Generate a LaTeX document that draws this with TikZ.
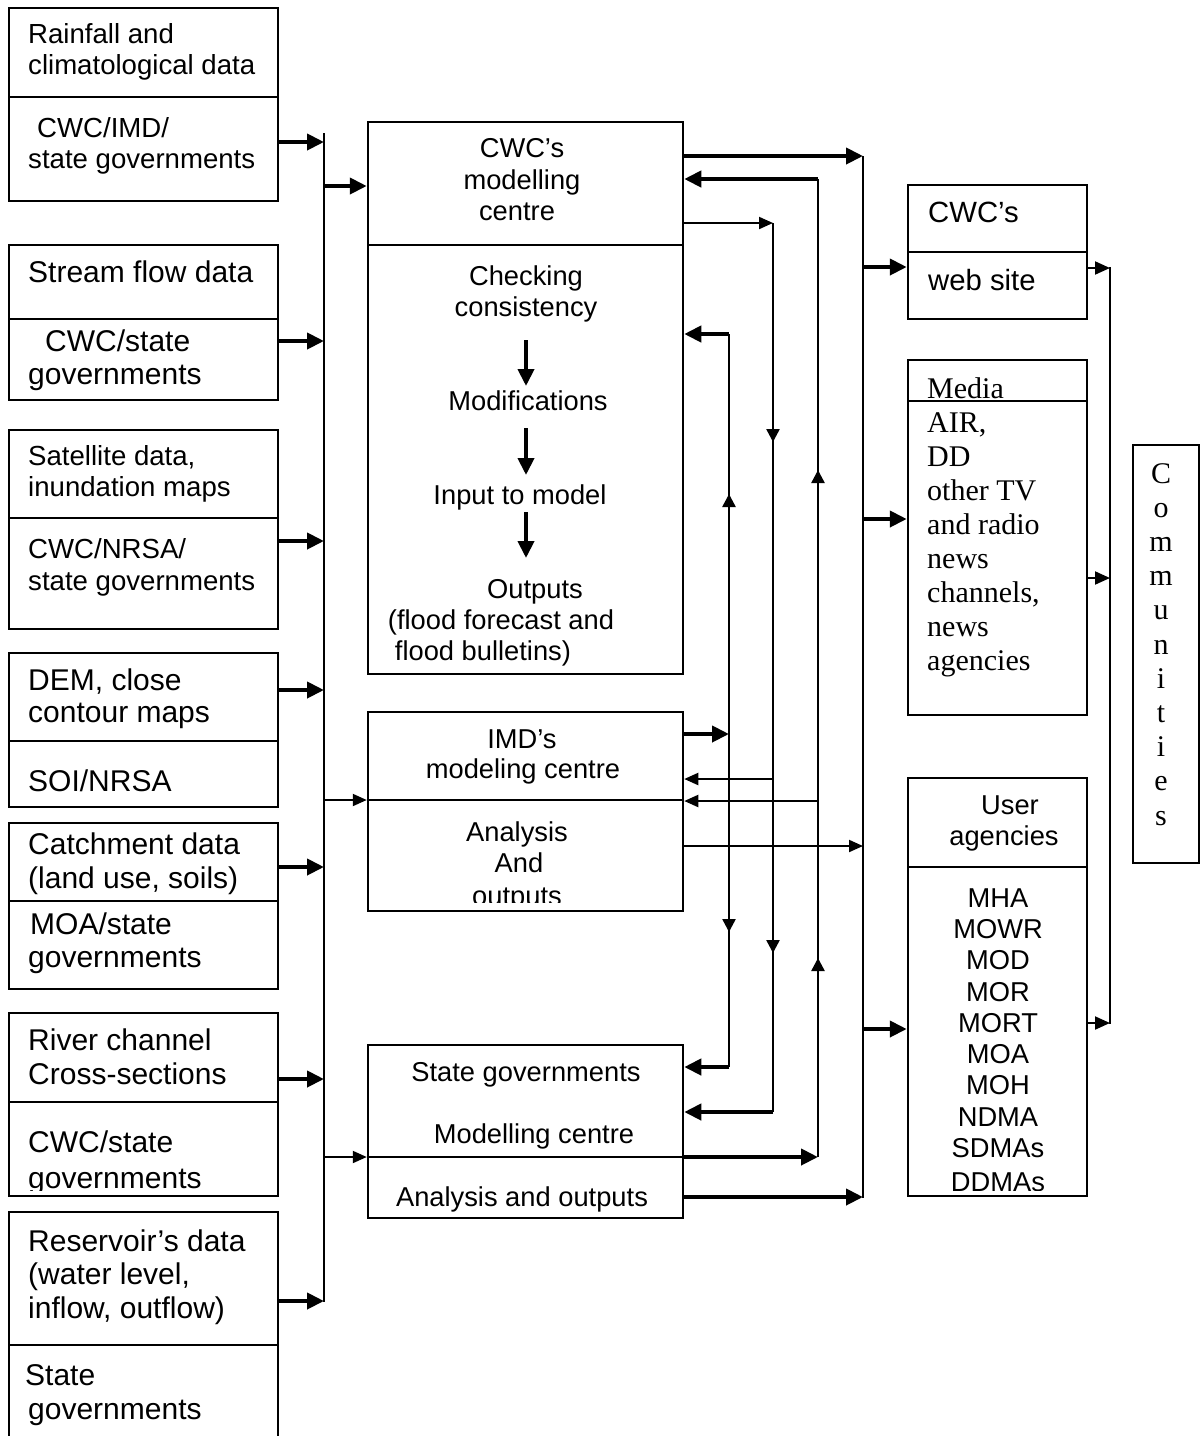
\documentclass[tikz,border=0pt]{standalone}
\usepackage{fontspec}
\setmainfont{Liberation Sans}
\newfontfamily\serifcomm{Liberation Serif}
\usetikzlibrary{arrows.meta,fit,decorations.markings}
\begin{document}
\begin{tikzpicture}[x=1pt,y=-1pt,
 sec/.style={draw, line width=2.5pt, inner sep=0pt},
 txt/.style={inner sep=0pt, font=\fontsize{27.3}{32}\selectfont},
 tl/.style={inner sep=0pt, font=\fontsize{27.6}{32}\selectfont, anchor=base west},
 tlb/.style={inner sep=0pt, font=\fontsize{30}{34}\selectfont, anchor=base west},
 tc/.style={txt, anchor=base},
 srf/.style={inner sep=0pt, font=\serifcomm\fontsize{30}{34}\selectfont, anchor=base west},
 busline/.style={line width=2.5pt},
 thickarr/.style={line width=4pt, -{Triangle[length=17pt,width=16pt]}},
 thinarr/.style={line width=2pt, -{Triangle[length=14pt,width=12pt]}},
 smallarr/.style={line width=2pt, -{Triangle[length=15pt,width=13pt]}},
 twotips/.style 2 args={postaction={decorate}, decoration={markings,
   mark=at position #1 with {\arrow{Triangle[length=13pt,width=13pt]}},
   mark=at position #2 with {\arrow{Triangle[length=13pt,width=13pt]}}}},
 onetip/.style={postaction={decorate}, decoration={markings,
   mark=at position #1 with {\arrow{Triangle[length=13pt,width=13pt]}}}},
 ]
\useasboundingbox (0,0) rectangle (1200,1436);

% ---------------- left column boxes ----------------
\node[sec, fit={(9,8)(278,97)}] (b1a) {};
\node[sec, fit={(9,97)(278,201)}] (b1b) {};
\node[sec, fit={(9,245)(278,319)}] (b2a) {};
\node[sec, fit={(9,319)(278,400)}] (b2b) {};
\node[sec, fit={(9,430)(278,518)}] (b3a) {};
\node[sec, fit={(9,518)(278,629)}] (b3b) {};
\node[sec, fit={(9,653)(278,741)}] (b4a) {};
\node[sec, fit={(9,741)(278,807)}] (b4b) {};
\node[sec, fit={(9,823)(278,901)}] (b5a) {};
\node[sec, fit={(9,901)(278,989)}] (b5b) {};
\node[sec, fit={(9,1013)(278,1102)}] (b6a) {};
\node[sec, fit={(9,1102)(278,1196)}] (b6b) {};
\node[sec, fit={(9,1212)(278,1345)}] (b7a) {};
\node[sec, fit={(9,1345)(278,1470)}] (b7b) {};

\node[tl] (t1a) at (28,43) {Rainfall and};
\node[tl] (t1b) at (28,74) {climatological data};
\node[tl] (t1c) at (37,137) {CWC/IMD/};
\node[tl] (t1d) at (28,168) {state governments};
\node[tlb] (t2a) at (28,282) {Stream flow data};
\node[tlb] (t2b) at (45,351) {CWC/state};
\node[tlb] (t2c) at (28,384) {governments};
\node[tl] (t3a) at (28,465) {Satellite data,};
\node[tl] (t3b) at (28,496) {inundation maps};
\node[tl] (t3c) at (28,558) {CWC/NRSA/};
\node[tl] (t3d) at (28,590) {state governments};
\node[tlb] (t4a) at (28,690) {DEM, close};
\node[tlb] (t4b) at (28,722) {contour maps};
\node[tlb] (t4c) at (28,791) {SOI/NRSA};
\node[tlb] (t5a) at (28,854) {Catchment data};
\node[tlb] (t5b) at (28,888) {(land use, soils)};
\node[tlb] (t5c) at (30,934) {MOA/state};
\node[tlb] (t5d) at (28,967) {governments};
\node[tlb] (t6a) at (28,1050) {River channel};
\node[tlb] (t6b) at (28,1084) {Cross-sections};
\node[tlb] (t6c) at (28,1152) {CWC/state};
\begin{scope}
\clip (9,1102) rectangle (278,1190);
\node[tlb] (t6d) at (28,1188) {governments};
\end{scope}
\node[tlb] (t7a) at (28,1251) {Reservoir’s data};
\node[tlb] (t7b) at (28,1284) {(water level,};
\node[tlb] (t7c) at (28,1318) {inflow, outflow)};
\node[tlb] (t7d) at (25,1385) {State};
\node[tlb] (t7e) at (28,1419) {governments};

% ---------------- middle boxes ----------------
\node[sec, fit={(368,122)(683,245)}] (cwcA) {};
\node[sec, fit={(368,245)(683,674)}] (cwcB) {};
\node[sec, fit={(368,712)(683,800)}] (imdA) {};
\node[sec, fit={(368,800)(683,911)}] (imdB) {};
\node[sec, fit={(368,1045)(683,1157)}] (stA) {};
\node[sec, fit={(368,1157)(683,1218)}] (stB) {};

\node[tc] (c1) at (522,157) {CWC’s};
\node[tc] (c2) at (522,189) {modelling};
\node[tc] (c3) at (517,220) {centre};
\node[tc] (c4) at (526,285) {Checking};
\node[tc] (c5) at (526,316) {consistency};
\node[tc] (c6) at (528,410) {Modifications};
\node[tc] (c7) at (520,504) {Input to model};
\node[tc] (c8) at (535,598) {Outputs};
\node[tc] (c9) at (501,629) {(flood forecast and};
\node[tc] (c10) at (483,660) {flood bulletins)};
\draw[thickarr] (c5.south |- 0,340) -- (c5.south |- 0,386);
\draw[thickarr] (c5.south |- 0,428) -- (c5.south |- 0,475);
\draw[thickarr] (c5.south |- 0,512) -- (c5.south |- 0,558);

\node[tc] (i1) at (522,748) {IMD’s};
\node[tc] (i2) at (523,778) {modeling centre};
\node[tc] (i3) at (517,841) {Analysis};
\node[tc] (i4) at (519,872) {And};
\begin{scope}
\clip (368,800) rectangle (683,902);
\node[tc] (i5) at (517,905) {outputs};
\end{scope}

\node[tc] (s1) at (526,1081) {State governments};
\node[tc] (s2) at (534,1143) {Modelling centre};
\node[tc] (s3) at (522,1206) {Analysis and outputs};

% ---------------- right boxes ----------------
\node[sec, fit={(908,185)(1087,252)}] (webA) {};
\node[sec, fit={(908,252)(1087,319)}] (webB) {};
\node[sec, fit={(908,360)(1087,401)}] (medA) {};
\node[sec, fit={(908,401)(1087,715)}] (medB) {};
\node[sec, fit={(908,778)(1087,867)}] (usrA) {};
\node[sec, fit={(908,867)(1087,1196)}] (usrB) {};
\node[sec, fit={(1133,445)(1199,863)}] (com) {};

\node[inner sep=0pt, anchor=base west, font=\fontsize{29.3}{34}\selectfont] (w1) at (928,222) {CWC’s};
\node[inner sep=0pt, anchor=base west, font=\fontsize{29.3}{34}\selectfont] (w2) at (928,290) {web site};

\node[srf] (m1) at (927,398) {Media};
\node[srf] (m2) at (927,432) {AIR,};
\node[srf] (m3) at (927,466) {DD};
\node[srf] (m4) at (927,500) {other TV};
\node[srf] (m5) at (927,534) {and radio};
\node[srf] (m6) at (927,568) {news};
\node[srf] (m7) at (927,602) {channels,};
\node[srf] (m8) at (927,636) {news};
\node[srf] (m9) at (927,670) {agencies};

\node[tc] (u1) at (1010,814) {User};
\node[tc] (u2) at (1004,845) {agencies};
\node[tc] (u3) at (998,907) {MHA};
\node[tc] (u4) at (998,938) {MOWR};
\node[tc] (u5) at (998,969) {MOD};
\node[tc] (u6) at (998,1001) {MOR};
\node[tc] (u7) at (998,1032) {MORT};
\node[tc] (u8) at (998,1063) {MOA};
\node[tc] (u9) at (998,1094) {MOH};
\node[tc] (u10) at (998,1126) {NDMA};
\node[tc] (u11) at (998,1157) {SDMAs};
\begin{scope}
\clip (908,867) rectangle (1087,1190);
\node[tc] (u12) at (998,1191) {DDMAs};
\end{scope}

\foreach \ch [count=\i from 0] in {C,o,m,m,u,n,i,t,i,e,s}
  \node[inner sep=0pt, anchor=base, font=\serifcomm\fontsize{30}{34}\selectfont] (cm\i) at (1161,{483+34.2*\i}) {\ch};

% ---------------- bus coordinates ----------------
\coordinate (LB) at (324,0);
\coordinate (V1) at (729,0);
\coordinate (V2) at (773,0);
\coordinate (V3) at (818,0);
\coordinate (RB) at (863,0);
\coordinate (CB) at (1110,0);

% left bus
\draw[busline] (LB |- 0,133) -- (LB |- 0,1302);
\draw[thickarr] (b1b.east |- 0,142) -- (LB |- 0,142);
\draw[thickarr] (b2b.east |- 0,341) -- (LB |- 0,341);
\draw[thickarr] (b3b.east |- 0,541) -- (LB |- 0,541);
\draw[thickarr] (b4a.east |- 0,690) -- (LB |- 0,690);
\draw[thickarr] (b5a.east |- 0,867) -- (LB |- 0,867);
\draw[thickarr] (b6a.east |- 0,1079) -- (LB |- 0,1079);
\draw[thickarr] (b7a.east |- 0,1301) -- (LB |- 0,1301);
\draw[thickarr] (LB |- 0,186) -- (cwcA.west |- 0,186);
\draw[thinarr] (LB |- 0,800) -- (imdA.west |- 0,800);
\draw[thinarr] (LB |- 0,1157) -- (stA.west |- 0,1157);

% middle verticals
\draw[busline, onetip=240pt] (V1 |- 0,734) -- (V1 |- 0,334);
\draw[busline, onetip=198pt] (V1 |- 0,734) -- (V1 |- 0,1067);
\draw[busline, twotips={219pt}{730pt}] (V2 |- 0,223) -- (V2 |- 0,1112);
\draw[busline, twotips={199pt}{687pt}] (V3 |- 0,1157) -- (V3 |- 0,179);

\draw[thickarr] (V3 |- 0,179) -- (cwcA.east |- 0,179);
\draw[thinarr] (cwcA.east |- 0,223) -- (V2 |- 0,223);
\draw[thickarr] (V1 |- 0,334) -- (cwcB.east |- 0,334);
\draw[thickarr] (imdA.east |- 0,734) -- (V1 |- 0,734);
\draw[thinarr] (V2 |- 0,779) -- (imdA.east |- 0,779);
\draw[thinarr] (V3 |- 0,801) -- (imdA.east |- 0,801);
\draw[thickarr] (V1 |- 0,1067) -- (stA.east |- 0,1067);
\draw[thickarr] (V2 |- 0,1112) -- (stA.east |- 0,1112);
\draw[thickarr] (stA.east |- 0,1157) -- (V3 |- 0,1157);

% right bus
\draw[busline] (RB |- 0,156) -- (RB |- 0,1198);
\draw[thickarr] (cwcA.east |- 0,156) -- (RB |- 0,156);
\draw[thinarr] (imdB.east |- 0,846) -- (RB |- 0,846);
\draw[thickarr] (stB.east |- 0,1197) -- (RB |- 0,1197);
\draw[thickarr] (RB |- 0,267) -- (webB.west |- 0,267);
\draw[thickarr] (RB |- 0,519) -- (medB.west |- 0,519);
\draw[thickarr] (RB |- 0,1029) -- (usrB.west |- 0,1029);

% communities bus
\draw[busline] (CB |- 0,267) -- (CB |- 0,1024);
\draw[smallarr] (webB.east |- 0,268) -- (CB |- 0,268);
\draw[smallarr] (medB.east |- 0,578) -- (CB |- 0,578);
\draw[smallarr] (usrB.east |- 0,1023) -- (CB |- 0,1023);
\end{tikzpicture}
\end{document}
